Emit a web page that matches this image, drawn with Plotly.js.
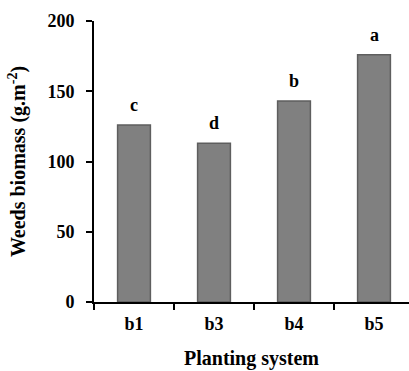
<!DOCTYPE html>
<html>
<head>
<meta charset="utf-8">
<script src="https://cdn.plot.ly/plotly-3.0.1.min.js"></script>
<style>html,body{margin:0;padding:0;background:#fff;}#chart{width:409px;height:371px;}</style>
</head>
<body>
<div id="chart"></div>
<script>
var categories = ['b1', 'b3', 'b4', 'b5'];
var biomass = [126, 113, 143, 176];
var letters = ['c', 'd', 'b', 'a'];
var yTicks = [0, 50, 100, 150, 200];

var font = 'Liberation Serif, Times New Roman, serif';

var trace = {
  type: 'bar',
  x: categories,
  y: biomass,
  width: 0.41,
  marker: {color: '#808080', line: {color: '#5e5e5e', width: 1.5}},
  hoverinfo: 'x+y'
};

var annotations = categories.map(function (c, i) {
  return {
    x: c, y: biomass[i], xref: 'x', yref: 'y',
    text: '<b>' + letters[i] + '</b>',
    showarrow: false, yanchor: 'bottom', yshift: 8,
    font: {family: font, size: 18, color: '#000'}
  };
});

var layout = {
  width: 409, height: 371,
  margin: {l: 94, r: 0, t: 21, b: 69},
  paper_bgcolor: '#fff', plot_bgcolor: '#fff',
  showlegend: false,
  font: {family: font, color: '#000'},
  xaxis: {
    type: 'category',
    range: [-0.5, 3.4375],
    tickson: 'boundaries',
    ticks: 'outside', ticklen: 6, tickwidth: 2, tickcolor: '#000',
    showline: true, linecolor: '#000', linewidth: 2,
    showgrid: false, zeroline: false,
    tickfont: {family: font, size: 18, color: '#000', weight: 'bold'},
    ticklabelstandoff: 4,
    title: {text: '<b>Planting system</b>', font: {family: font, size: 20, color: '#000'}, standoff: 18},
    automargin: false
  },
  yaxis: {
    range: [0, 200],
    tickvals: yTicks,
    ticktext: yTicks.map(function (v) { return '<b>' + v + '</b>'; }),
    ticks: 'outside', ticklen: 6, tickwidth: 2, tickcolor: '#000',
    showline: true, linecolor: '#000', linewidth: 2,
    showgrid: false, zeroline: false,
    tickfont: {family: font, size: 18, color: '#000'},
    ticklabelstandoff: 8,
    title: {text: '<b>Weeds biomass (g.m<sup>-2</sup>)</b>', font: {family: font, size: 20, color: '#000'}, standoff: 16},
    automargin: false
  },
  annotations: annotations
};

Plotly.newPlot('chart', [trace], layout, {displayModeBar: false, staticPlot: true});
</script>
</body>
</html>
